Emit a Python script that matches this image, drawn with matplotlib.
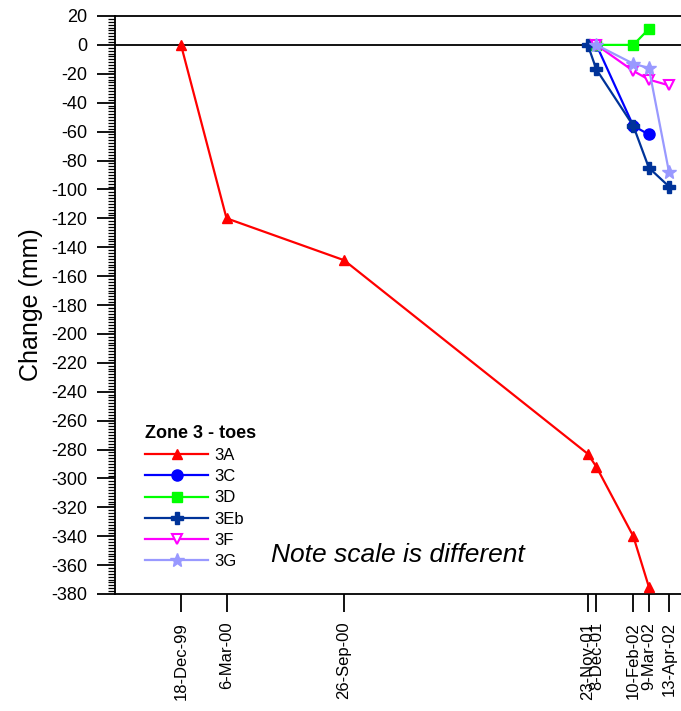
import datetime as dt
import matplotlib
matplotlib.use("Agg")
import matplotlib.pyplot as plt
import matplotlib.dates as mdates
from matplotlib.ticker import MultipleLocator

plt.rcParams['font.family'] = ['Liberation Sans', 'DejaVu Sans']
plt.rcParams['axes.unicode_minus'] = False

# Survey dates and their axis labels
survey_dates = ['1999-12-18', '2000-03-06', '2000-09-26', '2001-11-23',
                '2001-12-08', '2002-02-10', '2002-03-09', '2002-04-13']
tick_labels = ['18-Dec-99', '6-Mar-00', '26-Sep-00', '23-Nov-01',
               '8-Dec-01', '10-Feb-02', '9-Mar-02', '13-Apr-02']

# Change in toe position (mm) per station
dates_3A = ['1999-12-18', '2000-03-06', '2000-09-26', '2001-11-23',
            '2001-12-08', '2002-02-10', '2002-03-09']
vals_3A = [0, -120, -149, -283, -292, -340, -375]

dates_3C = ['2001-12-08', '2002-02-10', '2002-03-09']
vals_3C = [0, -56, -62]

dates_3D = ['2001-12-08', '2002-02-10', '2002-03-09']
vals_3D = [0, 0, 11]

dates_3Eb = ['2001-11-23', '2001-12-08', '2002-02-10', '2002-03-09', '2002-04-13']
vals_3Eb = [0, -17, -56, -85, -98]

dates_3F = ['2001-12-08', '2002-02-10', '2002-03-09', '2002-04-13']
vals_3F = [0, -18, -24, -28]

dates_3G = ['2001-12-08', '2002-02-10', '2002-03-09', '2002-04-13']
vals_3G = [0, -13, -16, -88]


def to_dates(seq):
    return [dt.datetime.strptime(s, '%Y-%m-%d') for s in seq]


W, H = 681, 711
fig = plt.figure(figsize=(W / 100, H / 100), dpi=100)
left_px, right_px, top_px, bottom_px = 115, 681, 16, 594
ax = fig.add_axes([left_px / W, 1 - bottom_px / H,
                   (right_px - left_px) / W, (bottom_px - top_px) / H])

ax.axhline(0, color='black', lw=1.3, zorder=1.5)

series = [
    ('3A', dates_3A, vals_3A, dict(color='#FF0000', marker='^', ms=7.5)),
    ('3C', dates_3C, vals_3C, dict(color='#0000FF', marker='o', ms=8)),
    ('3D', dates_3D, vals_3D, dict(color='#00FF00', marker='s', ms=7)),
    ('3Eb', dates_3Eb, vals_3Eb, dict(color='#003399', marker='P', ms=8.5)),
    ('3F', dates_3F, vals_3F, dict(color='#FF00FF', marker='v', ms=7.5,
                                   markerfacecolor='white', mew=1.5)),
    ('3G', dates_3G, vals_3G, dict(color='#9999FF', marker='*', ms=10)),
]
for name, d, v, style in series:
    ax.plot(to_dates(d), v, lw=1.6, label=name, zorder=3, **style)

# Axis ranges
first = mdates.date2num(dt.datetime(1999, 12, 18))
px_per_day = 488 / 847
x0 = first - (181 - left_px) / px_per_day
x1 = x0 + (right_px - left_px) / px_per_day
ax.set_xlim(x0, x1)
ax.set_ylim(-380, 20)

ax.set_xticks(to_dates(survey_dates))
ax.set_xticklabels(tick_labels, rotation=90, fontsize=12)
ax.set_yticks(range(-380, 21, 20))
ax.yaxis.set_minor_locator(MultipleLocator(2))
ax.tick_params(axis='y', labelsize=13)
ax.tick_params(axis='both', which='major', length=13, width=1.3,
               direction='out', pad=7)
ax.tick_params(axis='y', which='minor', length=5, width=0.9, direction='out')
ax.tick_params(axis='x', which='minor', bottom=False)

for s in ('left', 'bottom', 'top'):
    ax.spines[s].set_linewidth(1.3)
ax.spines['right'].set_visible(False)

ax.set_ylabel('Change (mm)', fontsize=18)
ax.yaxis.set_label_coords(-0.128, 0.5)

ax.text((271 - left_px) / (right_px - left_px), (bottom_px - 562) / (bottom_px - top_px),
        'Note scale is different', transform=ax.transAxes, fontsize=19,
        style='italic', ha='left', va='baseline')

leg = ax.legend(loc='upper left', bbox_to_anchor=(145 / W, 1 - 425 / H),
                bbox_transform=fig.transFigure, frameon=False, fontsize=12,
                title='Zone 3 - toes',
                title_fontproperties={'weight': 'bold', 'size': 13},
                alignment='left', borderpad=0, borderaxespad=0,
                handlelength=3.8, handletextpad=0.36, labelspacing=0.37,
                numpoints=1)

fig.savefig('out.png', dpi=100)
